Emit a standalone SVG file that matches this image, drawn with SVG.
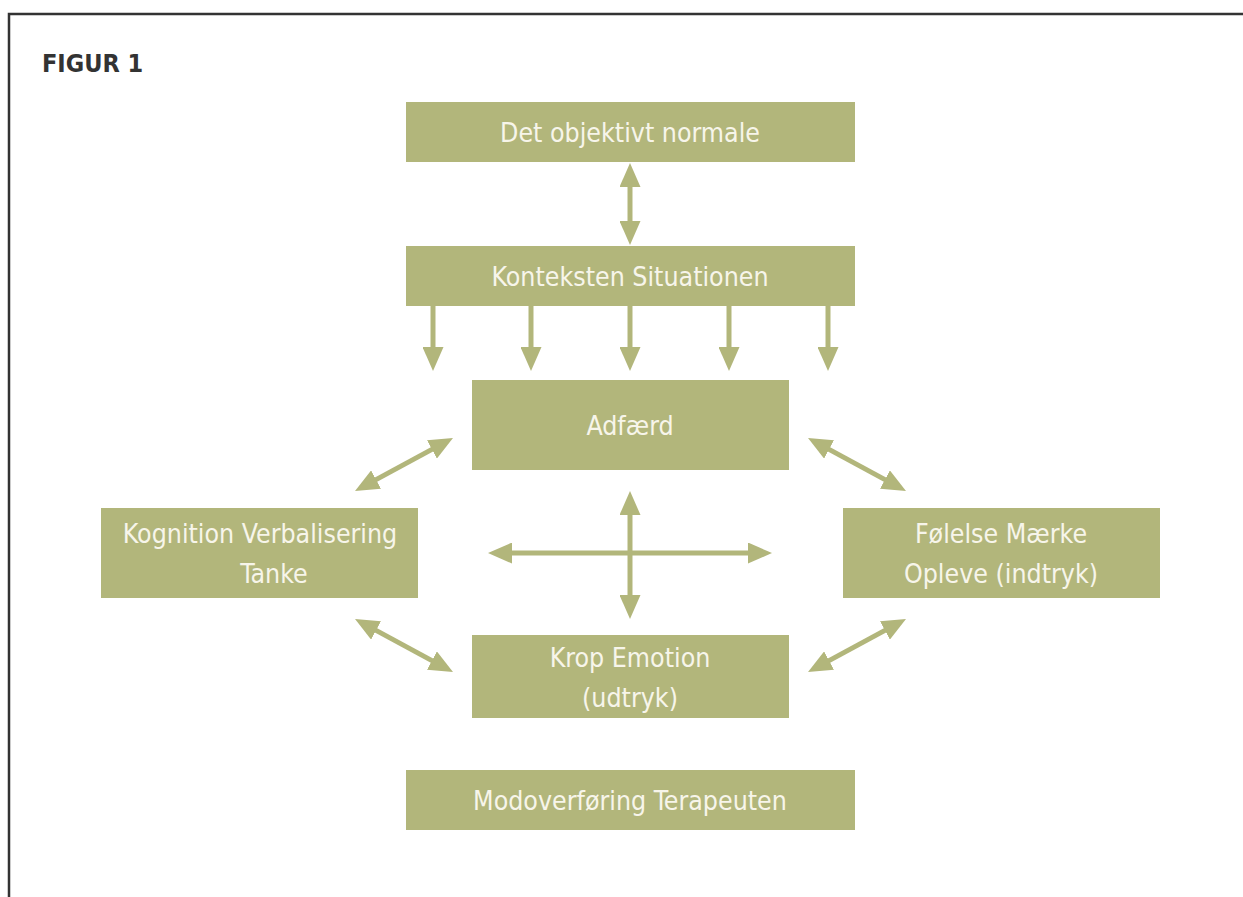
<svg xmlns="http://www.w3.org/2000/svg" width="1243" height="897" viewBox="0 0 1243 897">
<style>
.box{fill:#b2b67b}
.t{font-family:"DejaVu Sans Condensed","Liberation Sans Narrow",sans-serif;font-size:26.5px;fill:#f7f5ea;text-anchor:middle}
.c{stroke:#b2b67b;stroke-width:5;fill:none}
.h{fill:#b2b67b}
</style>
<defs>
<marker id="ah" viewBox="0 0 24 21" refX="9" refY="10.5" markerWidth="24" markerHeight="21" markerUnits="userSpaceOnUse" orient="auto-start-reverse">
<path d="M0,0 L24,10.5 L0,21 Z" class="h"/>
</marker>
</defs>
<rect width="1243" height="897" fill="#fff"/>
<path d="M9,897 V14 H1243" fill="none" stroke="#333" stroke-width="2.5"/>
<text x="42" y="72" style="font-family:'DejaVu Sans Condensed','Liberation Sans Narrow',sans-serif;font-weight:bold;font-size:25px;fill:#333">FIGUR 1</text>
<g id="n1"><rect class="box" x="406" y="102" width="449" height="60"/><text class="t" x="630" y="142">Det objektivt normale</text></g>
<g id="n2"><rect class="box" x="406" y="246" width="449" height="60"/><text class="t" x="630" y="286">Konteksten Situationen</text></g>
<g id="n3"><rect class="box" x="472" y="380" width="317" height="90"/><text class="t" x="630" y="435">Adfærd</text></g>
<g id="n4"><rect class="box" x="101" y="508" width="317" height="90"/><text class="t" x="260" y="543">Kognition Verbalisering</text><text class="t" x="274" y="583">Tanke</text></g>
<g id="n5"><rect class="box" x="843" y="508" width="317" height="90"/><text class="t" x="1001" y="543">Følelse Mærke</text><text class="t" x="1001" y="583">Opleve (indtryk)</text></g>
<g id="n6"><rect class="box" x="472" y="635" width="317" height="83"/><text class="t" x="630" y="667">Krop Emotion</text><text class="t" x="630" y="707">(udtryk)</text></g>
<g id="n7"><rect class="box" x="406" y="770" width="449" height="60"/><text class="t" x="630" y="810">Modoverføring Terapeuten</text></g>
<g id="connectors">
<line class="c" x1="630" y1="178" x2="630" y2="230" marker-start="url(#ah)" marker-end="url(#ah)"/>
<line class="c" x1="433" y1="306" x2="433" y2="356" marker-end="url(#ah)"/>
<line class="c" x1="531" y1="306" x2="531" y2="356" marker-end="url(#ah)"/>
<line class="c" x1="630" y1="306" x2="630" y2="356" marker-end="url(#ah)"/>
<line class="c" x1="729" y1="306" x2="729" y2="356" marker-end="url(#ah)"/>
<line class="c" x1="828" y1="306" x2="828" y2="356" marker-end="url(#ah)"/>
<line class="c" x1="630" y1="506" x2="630" y2="604" marker-start="url(#ah)" marker-end="url(#ah)"/>
<line class="c" x1="503" y1="553" x2="757" y2="553" marker-start="url(#ah)" marker-end="url(#ah)"/>
<line class="c" x1="368.2" y1="483.9" x2="439.8" y2="445.1" marker-start="url(#ah)" marker-end="url(#ah)"/>
<line class="c" x1="368.2" y1="626.1" x2="439.8" y2="664.9" marker-start="url(#ah)" marker-end="url(#ah)"/>
<line class="c" x1="821.2" y1="445.1" x2="892.8" y2="483.9" marker-start="url(#ah)" marker-end="url(#ah)"/>
<line class="c" x1="821.2" y1="664.9" x2="892.8" y2="626.1" marker-start="url(#ah)" marker-end="url(#ah)"/>
</g>
</svg>
